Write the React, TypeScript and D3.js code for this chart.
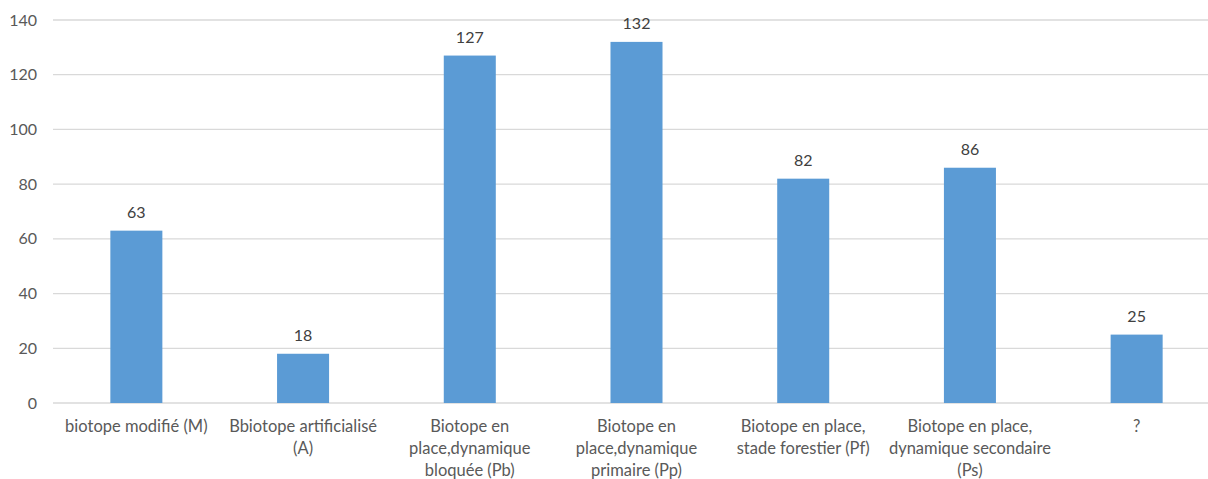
import React from "react";
import * as d3 from "d3";

const categories: string[] = [
  "biotope modifié (M)",
  "Bbiotope artificialisé\n(A)",
  "Biotope en\nplace,dynamique\nbloquée (Pb)",
  "Biotope en\nplace,dynamique\nprimaire (Pp)",
  "Biotope en place,\nstade forestier (Pf)",
  "Biotope en place,\ndynamique secondaire\n(Ps)",
  "?",
];
const values: number[] = [63, 18, 127, 132, 82, 86, 25];
const yTicks: number[] = [0, 20, 40, 60, 80, 100, 120, 140];

export default function App() {
  const W = 1208;
  const H = 479;
  const left = 53;
  const right = 1220;
  const top = 20;
  const bottom = 403;
  const font = "Lato, 'Open Sans', sans-serif";
  const textColor = "#595959";

  const x = d3.scaleBand<string>().domain(categories).range([left, right]).paddingInner(0.688).paddingOuter(0.344);
  const y = d3.scaleLinear().domain([0, 140]).range([bottom, top]);

  return (
    <svg width={W} height={H} style={{ position: "absolute", left: 0, top: 0, background: "#fff" }} fontFamily={font}>
      {yTicks.map((t) => (
        <g key={t}>
          <line x1={left} x2={right} y1={y(t)} y2={y(t)} stroke="#d9d9d9" strokeWidth={1.3} />
          <text x={37} y={y(t)} dy="0.35em" textAnchor="end" fontSize={16} fill={textColor}>
            {t}
          </text>
        </g>
      ))}
      {categories.map((c, i) => {
        const bx = x(c)!;
        const bw = x.bandwidth();
        return (
          <g key={c}>
            <rect x={bx} y={y(values[i])} width={bw} height={y(0) - y(values[i])} fill="#5b9bd5" />
            <text x={bx + bw / 2} y={y(values[i]) - 13} textAnchor="middle" fontSize={16} fill="#404040">
              {values[i]}
            </text>
            {c.split("\n").map((line, j) => (
              <text key={j} x={bx + bw / 2} y={426.5 + j * 21.7} dy="0.35em" textAnchor="middle" fontSize={16.5} fill={textColor}>
                {line}
              </text>
            ))}
          </g>
        );
      })}
    </svg>
  );
}
